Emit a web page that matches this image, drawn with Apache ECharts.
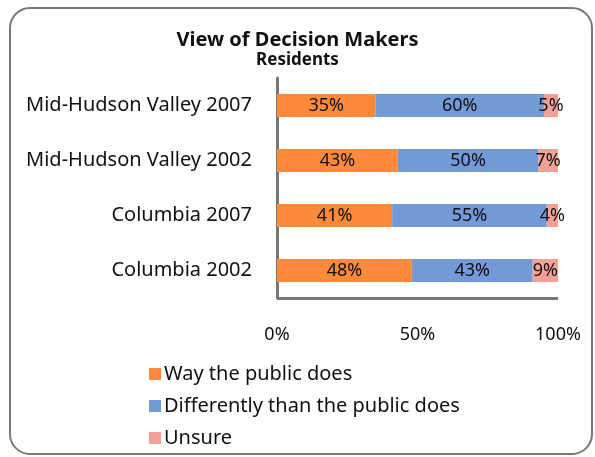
<!DOCTYPE html>
<html>
<head>
<meta charset="utf-8">
<script src="https://cdn.jsdelivr.net/npm/echarts@6/dist/echarts.min.js"></script>
<style>
  html, body { margin: 0; padding: 0; background: #fff; }
  #chart { width: 595px; height: 457px; }
</style>
</head>
<body>
<div id="chart"></div>
<script>
var categories = ['Mid-Hudson Valley 2007', 'Mid-Hudson Valley 2002', 'Columbia 2007', 'Columbia 2002'];
var wayPublic = [35, 43, 41, 48];
var differently = [60, 50, 55, 43];
var unsure = [5, 7, 4, 9];
var xTicks = [0, 50, 100];

var font = 'Noto Sans';

function seg(name, values, color) {
  return {
    name: name,
    type: 'bar',
    stack: 'all',
    data: values,
    barWidth: 23,
    itemStyle: { color: color },
    label: {
      show: true,
      position: 'inside',
      formatter: '{c}%',
      color: '#111',
      fontFamily: font,
      fontSize: 18
    }
  };
}

var myChart = echarts.init(document.getElementById('chart'));
var option = {
  backgroundColor: '#fff',
  animation: false,
  graphic: [{
    type: 'rect',
    shape: { x: 10, y: 8, width: 582, height: 446, r: 20 },
    style: { fill: 'none', stroke: '#777', lineWidth: 2 },
    silent: true
  }],
  title: {
    text: 'View of Decision Makers',
    subtext: 'Residents',
    left: 'center',
    top: 25,
    itemGap: 2,
    textStyle: { fontFamily: font, fontSize: 20, fontWeight: 'bold', color: '#111' },
    subtextStyle: { fontFamily: font, fontSize: 17, fontWeight: 'bold', color: '#111' }
  },
  legend: {
    orient: 'vertical',
    left: 144,
    top: 359,
    itemWidth: 12,
    itemHeight: 12,
    itemGap: 12,
    icon: 'rect',
    textStyle: { fontFamily: font, fontSize: 20, color: '#111', padding: [0, 0, 0, -2] }
  },
  grid: { left: 277, right: 37, top: 78, bottom: 159, containLabel: false },
  xAxis: {
    type: 'value',
    min: xTicks[0],
    max: xTicks[xTicks.length - 1],
    interval: 50,
    axisLine: { show: false },
    axisTick: { show: false },
    splitLine: { show: false },
    axisLabel: {
      formatter: '{value}%',
      margin: 28,
      fontFamily: font,
      fontSize: 18,
      color: '#111'
    }
  },
  yAxis: {
    type: 'category',
    data: categories,
    inverse: true,
    axisLine: { show: true, lineStyle: { color: '#777', width: 3 } },
    axisTick: { show: false },
    axisLabel: { margin: 25, fontFamily: font, fontSize: 20, color: '#111' }
  },
  series: [
    seg('Way the public does', wayPublic, '#FC8A3A'),
    seg('Differently than the public does', differently, '#7499D7'),
    seg('Unsure', unsure, '#F3A197'),
    {
      type: 'line',
      data: [],
      markLine: {
        silent: true,
        symbol: 'none',
        label: { show: false },
        lineStyle: { color: '#777', width: 3, type: 'solid' },
        data: [[{ coord: [0, categories[categories.length - 1]], y: 298 }, { coord: [100, categories[categories.length - 1]], y: 298 }]]
      }
    }
  ]
};
myChart.setOption(option);
</script>
</body>
</html>
